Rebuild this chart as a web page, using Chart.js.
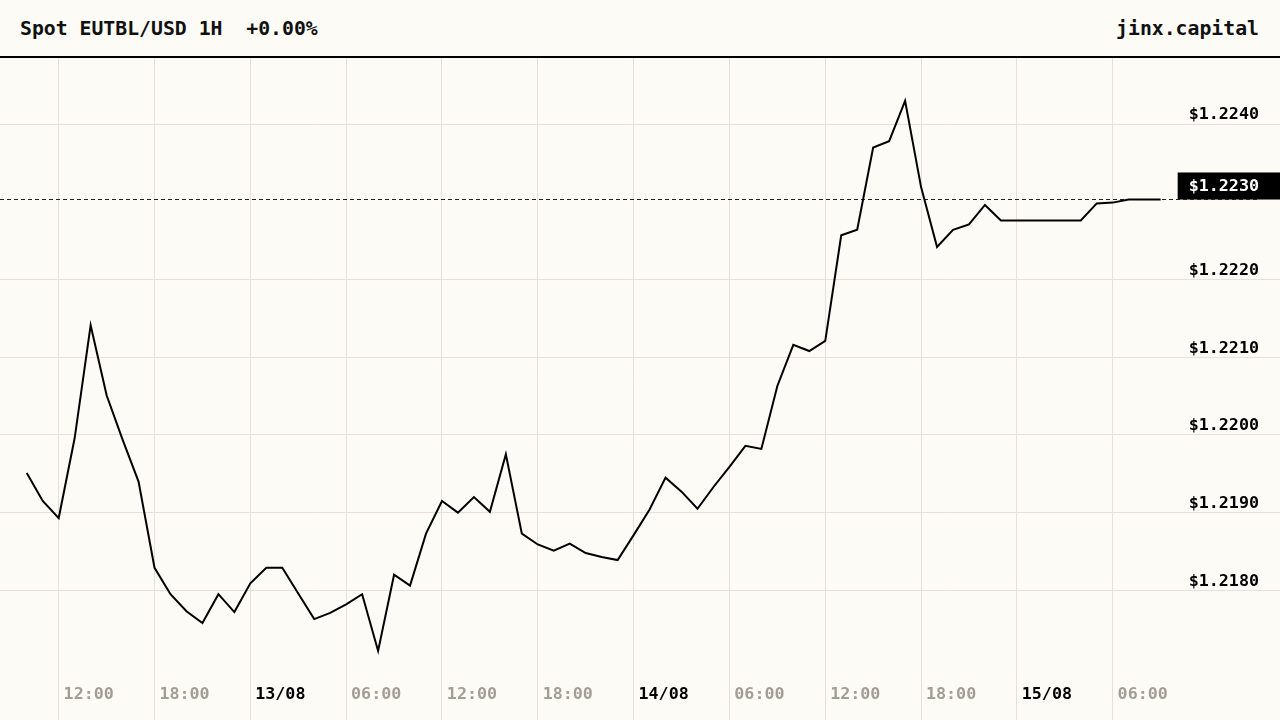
<!DOCTYPE html>
<html>
<head>
<meta charset="utf-8">
<title>Spot EUTBL/USD 1H</title>
<script src="https://cdn.jsdelivr.net/npm/chart.js@4.4.1/dist/chart.umd.min.js"></script>
<style>
  html, body { margin: 0; padding: 0; background: #fdfbf6; }
  body { width: 1280px; height: 720px; overflow: hidden; font-family: 'DejaVu Sans Mono', monospace; }
  .header {
    position: relative;
    z-index: 2;
    height: 56px;
    background: #fdfbf6;
    border-bottom: 2px solid #000;
    display: flex;
    align-items: center;
    justify-content: space-between;
    padding: 0 21px 0 20px;
    font-size: 19.8px;
    font-weight: bold;
    color: #111;
    white-space: pre;
  }
  /* canvas starts 10px under the header: chart.js keeps half a label height above the plot */
  .chart-box { position: relative; z-index: 1; width: 1280px; height: 672px; margin-top: -10px; }
</style>
</head>
<body>
<div class="header">
  <span>Spot EUTBL/USD 1H  +0.00%</span>
  <span>jinx.capital</span>
</div>
<div class="chart-box"><canvas id="priceChart"></canvas></div>

<script>
// hours counted from 12/08 00:00
const hours = [
  10, 11, 12, 13, 14, 15, 16, 17, 18, 19, 20, 21, 22, 23,
  24, 25, 26, 27, 28, 29, 30, 31, 32, 33, 34, 35, 36, 37, 38, 39, 40, 41, 42, 43, 44, 45, 46, 47,
  48, 49, 50, 51, 52, 53, 54, 55, 56, 57, 58, 59, 60, 61, 62, 63, 64, 65, 66, 67, 68, 69, 70, 71,
  72, 73, 74, 75, 76, 77, 78, 79, 80, 81
];

// EUTBL/USD close price, 1H
const prices = [
  1.21951, 1.21915, 1.21893, 1.21996, 1.22141, 1.22051, 1.21994, 1.21940, 1.21829, 1.21795, 1.21773, 1.21758, 1.21795, 1.21772,
  1.21809, 1.21829, 1.21829, 1.21796, 1.21763, 1.21771, 1.21782, 1.21795, 1.21722, 1.21820, 1.21806, 1.21873,
  1.21915, 1.21900, 1.21920, 1.21901, 1.21975, 1.21873, 1.21859, 1.21851, 1.21860, 1.21848, 1.21843, 1.21839,
  1.21871, 1.21904, 1.21945, 1.21927, 1.21905, 1.21933, 1.21959, 1.21986, 1.21982, 1.22063, 1.22116, 1.22108,
  1.22121, 1.22257, 1.22264, 1.22370, 1.22378, 1.22430, 1.22319, 1.22242, 1.22264, 1.22271, 1.22296, 1.22276,
  1.22276, 1.22276, 1.22276, 1.22276, 1.22276, 1.22298, 1.22299, 1.22303, 1.22303, 1.22303
];

// x axis ticks (hours) and y axis ticks (price)
const timeTicks = [12, 18, 24, 30, 36, 42, 48, 54, 60, 66, 72, 78];
const priceTicks = [1.218, 1.219, 1.220, 1.221, 1.222, 1.224];
const lastPrice = 1.22303;

const X_MIN = 8.324, X_MAX = 87.16;
const Y_MIN = 1.216524, Y_MAX = 1.224851;

const tickFont = { family: 'DejaVu Sans Mono', size: 16.7, weight: 'bold' };

function timeLabel(h) {
  if (h % 24 === 0) {
    return String(12 + h / 24).padStart(2, '0') + '/08';
  }
  return String(h % 24).padStart(2, '0') + ':00';
}

document.addEventListener('DOMContentLoaded', function() {
  const ctx = document.getElementById('priceChart');

  new Chart(ctx, {
    type: 'line',
    data: {
      datasets: [
        {
          label: 'EUTBL/USD',
          data: hours.map((h, i) => ({ x: h, y: prices[i] })),
          borderColor: '#000',
          borderWidth: 2,
          pointRadius: 0,
          tension: 0,
          fill: false
        },
        {
          // 现价虚线
          label: 'last',
          data: [{ x: X_MIN, y: lastPrice }, { x: X_MAX, y: lastPrice }],
          borderColor: '#222',
          borderWidth: 1,
          borderDash: [4, 3],
          pointRadius: 0,
          fill: false
        }
      ]
    },
    options: {
      responsive: true,
      maintainAspectRatio: false,
      animation: false,
      layout: { padding: 0 },
      plugins: {
        legend: { display: false },
        tooltip: { enabled: false }
      },
      scales: {
        x: {
          type: 'linear',
          position: 'bottom',
          min: X_MIN,
          max: X_MAX,
          afterBuildTicks: axis => { axis.ticks = timeTicks.map(v => ({ value: v })); },
          border: { display: false },
          grid: { color: '#e4e0da', lineWidth: 1, drawTicks: true, tickLength: 15 },
          ticks: {
            mirror: true,
            padding: 0,
            labelOffset: 30,
            maxRotation: 0,
            autoSkip: false,
            font: tickFont,
            color: c => (c.tick && c.tick.value % 24 === 0) ? '#000' : '#a39d96',
            callback: v => timeLabel(v)
          }
        },
        y: {
          type: 'linear',
          position: 'right',
          min: Y_MIN,
          max: Y_MAX,
          weight: 0,
          afterBuildTicks: axis => { axis.ticks = priceTicks.map(v => ({ value: v })); },
          border: { display: false },
          grid: { color: '#e4e0da', lineWidth: 1, drawTicks: true, tickLength: 21 },
          ticks: {
            mirror: true,
            padding: 0,
            labelOffset: -9,
            font: tickFont,
            color: '#000',
            callback: v => '$' + Number(v).toFixed(4)
          }
        },
        yPrice: {
          type: 'linear',
          position: 'right',
          min: Y_MIN,
          max: Y_MAX,
          weight: -1,
          z: 1,
          afterBuildTicks: axis => { axis.ticks = [{ value: lastPrice }]; },
          border: { display: false },
          grid: { display: false, drawTicks: false },
          ticks: {
            mirror: true,
            padding: 0,
            labelOffset: -13,
            font: tickFont,
            color: '#fff',
            showLabelBackdrop: true,
            backdropColor: '#000',
            backdropPadding: { top: 4, bottom: 3, left: 11, right: 21 },
            callback: v => '$' + Number(v).toFixed(4)
          }
        }
      }
    }
  });
});
</script>
</body>
</html>
